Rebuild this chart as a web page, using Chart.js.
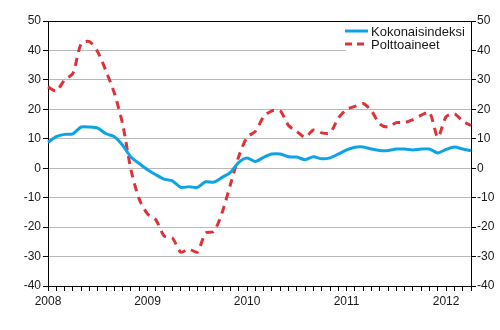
<!DOCTYPE html>
<html>
<head>
<meta charset="utf-8">
<script src="https://cdn.jsdelivr.net/npm/chart.js@4.4.1/dist/chart.umd.min.js"></script>
<style>
  html, body { margin: 0; padding: 0; background: #fff; }
  #wrap { width: 500px; height: 330px; }
</style>
</head>
<body>
<div id="wrap"><canvas id="chart" width="500" height="330"></canvas></div>
<script>
// ---- DATA ----
const months = [
  '2008M01','2008M02','2008M03','2008M04','2008M05','2008M06','2008M07','2008M08','2008M09','2008M10','2008M11','2008M12',
  '2009M01','2009M02','2009M03','2009M04','2009M05','2009M06','2009M07','2009M08','2009M09','2009M10','2009M11','2009M12',
  '2010M01','2010M02','2010M03','2010M04','2010M05','2010M06','2010M07','2010M08','2010M09','2010M10','2010M11','2010M12',
  '2011M01','2011M02','2011M03','2011M04','2011M05','2011M06','2011M07','2011M08','2011M09','2011M10','2011M11','2011M12',
  '2012M01','2012M02','2012M03','2012M04'
];

const kokonaisindeksi = [
  8.8, 10.7, 11.5, 11.7, 14.0, 14.0, 13.6, 11.7, 10.7, 7.8, 3.8, 1.6,
  -0.5, -2.2, -3.7, -4.3, -6.5, -6.3, -6.5, -4.6, -4.7, -3.1, -1.4, 2.0,
  3.5, 2.3, 3.7, 4.8, 4.8, 3.9, 3.8, 2.9, 3.9, 3.2, 3.5, 4.8,
  6.2, 7.1, 7.2, 6.5, 6.0, 6.0, 6.5, 6.5, 6.2, 6.5, 6.5, 5.2,
  6.4, 7.2, 6.5, 6.0
];

const polttoaineet = [
  27.6, 26.2, 30.0, 32.2, 42.3, 43.0, 39.5, 33.0, 25.5, 15.0, -0.5, -10.5,
  -15.5, -17.5, -23.0, -23.7, -28.5, -27.5, -28.5, -22.0, -21.5, -15.0, -5.5, 4.0,
  10.5, 12.5, 17.5, 19.5, 19.5, 14.5, 12.5, 10.5, 13.0, 12.0, 12.0, 17.0,
  20.0, 21.0, 22.0, 19.5, 15.0, 14.0, 15.5, 15.5, 16.5, 18.0, 19.0, 10.5,
  17.5, 18.5, 16.0, 14.5
];

const yearTicks = ['2008', '2009', '2010', '2011', '2012'];

const seriesNames = ['Kokonaisindeksi', 'Polttoaineet'];
const BLUE = '#0ea2e6';
const RED = '#dd3338';
const FONT = "'Liberation Sans', Arial, sans-serif";

// ---- LEGEND + TOP FRAME ----
const frameLegend = {
  id: 'frameLegend',
  beforeDatasetsDraw(chart) {
    const { ctx, chartArea: ca } = chart;
    ctx.save();
    ctx.fillStyle = '#fff';
    ctx.fillRect(ca.right - 125, ca.top + 1, 124, 31);
    ctx.restore();
  },
  afterDraw(chart) {
    const { ctx, chartArea: ca } = chart;
    ctx.save();
    // top edge of the plot box
    ctx.strokeStyle = '#000';
    ctx.lineWidth = 1;
    ctx.beginPath();
    ctx.moveTo(ca.left, ca.top + 0.5);
    ctx.lineTo(ca.right, ca.top + 0.5);
    ctx.stroke();

    const x0 = ca.right - 126;
    const rows = [
      { y: ca.top + 10, color: BLUE, dash: [] },
      { y: ca.top + 23, color: RED, dash: [7, 5] }
    ];
    ctx.font = '13px ' + FONT;
    ctx.textBaseline = 'middle';
    rows.forEach((r, i) => {
      ctx.strokeStyle = r.color;
      ctx.lineWidth = 3;
      ctx.setLineDash(r.dash);
      ctx.beginPath();
      ctx.moveTo(x0, r.y);
      ctx.lineTo(x0 + 23, r.y);
      ctx.stroke();
      ctx.setLineDash([]);
      ctx.fillStyle = '#1a1a1a';
      ctx.fillText(seriesNames[i], x0 + 26, r.y + 1);
    });
    ctx.restore();
  }
};

// ---- CHART ----
const tickFont = { family: FONT, size: 12 };

new Chart(document.getElementById('chart'), {
  type: 'line',
  data: {
    labels: months,
    datasets: [
      {
        label: seriesNames[0],
        data: kokonaisindeksi,
        borderColor: BLUE,
        borderWidth: 3,
        pointRadius: 0,
        tension: 0.25,
        fill: false
      },
      {
        label: seriesNames[1],
        data: polttoaineet,
        borderColor: RED,
        borderWidth: 3,
        borderDash: [8, 6],
        pointRadius: 0,
        tension: 0.25,
        fill: false,
        yAxisID: 'y'
      }
    ]
  },
  options: {
    responsive: false,
    animation: false,
    layout: { padding: { top: 21, left: 0, right: 0, bottom: 0 } },
    plugins: {
      legend: { display: false },
      tooltip: { enabled: false }
    },
    scales: {
      x: {
        offset: false,
        grid: { drawOnChartArea: false, drawTicks: true, tickLength: 5, tickColor: '#000' },
        border: { color: '#000', width: 1 },
        ticks: {
          autoSkip: false,
          maxRotation: 0,
          padding: 3,
          color: '#1a1a1a',
          font: tickFont,
          callback: (v, i) => {
            const y = months[i].slice(0, 4);
            return months[i].endsWith('M01') && yearTicks.includes(y) ? y : '';
          }
        },
        afterFit: s => { s.height = 44; }
      },
      y: {
        position: 'left',
        min: -40,
        max: 50,
        grid: { color: '#b9b9b9', lineWidth: 1, tickLength: 5, tickColor: '#000' },
        border: { color: '#000', width: 1 },
        ticks: { stepSize: 10, padding: 2, color: '#1a1a1a', font: tickFont },
        afterFit: s => { s.width = 48; }
      },
      y2: {
        position: 'right',
        min: -40,
        max: 50,
        grid: { drawOnChartArea: false, tickLength: 5, tickColor: '#000' },
        border: { color: '#000', width: 1 },
        ticks: { stepSize: 10, padding: 1, color: '#1a1a1a', font: tickFont },
        afterFit: s => { s.width = 29; }
      }
    }
  },
  plugins: [frameLegend]
});
</script>
</body>
</html>
